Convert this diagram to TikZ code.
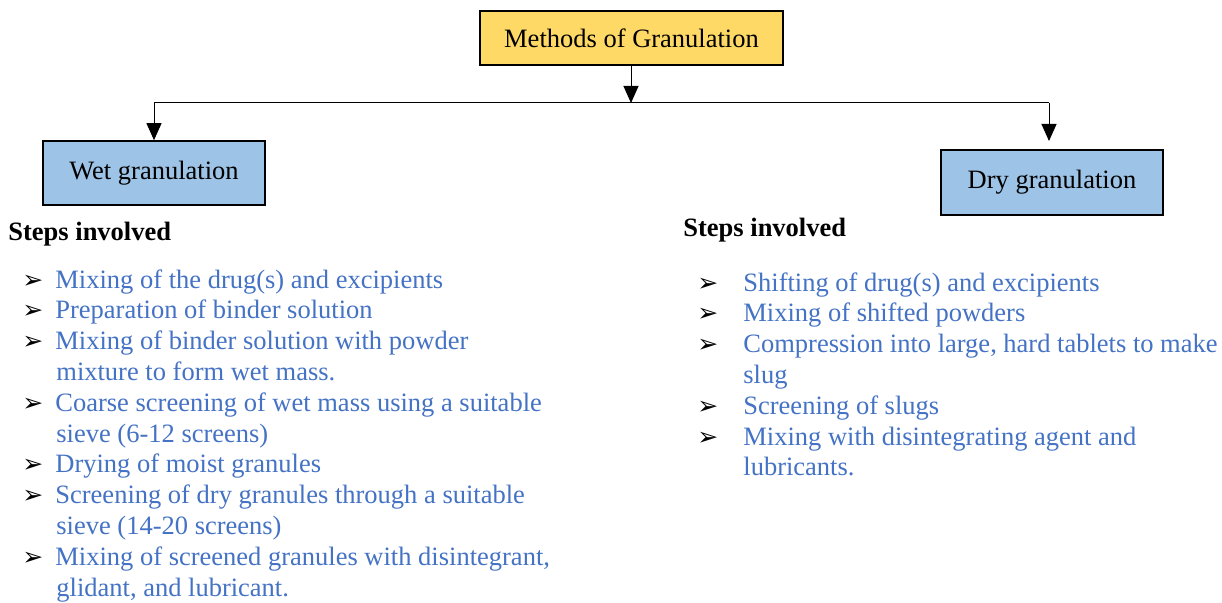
\documentclass[tikz,border=0pt]{standalone}
\usepackage{fontspec}
\setmainfont{Liberation Serif}
\newfontfamily\dejavu{DejaVu Sans}
\usetikzlibrary{positioning,arrows.meta}
\definecolor{boxgold}{HTML}{FFD966}
\definecolor{boxblue}{HTML}{9DC3E6}
\definecolor{stepblue}{HTML}{4472C4}
\newcommand{\stepmark}[1]{\makebox[#1][l]{\color{black}\dejavu\fontsize{12.5}{12}\selectfont ➢}}

\begin{document}
\begin{tikzpicture}[
  x=0.5pt, y=-0.5pt,
  box/.style={draw, line width=0.8pt, align=center,
              font=\fontsize{13.25}{15}\selectfont, inner sep=3pt,
              minimum width=111pt, minimum height=32pt},
  heading/.style={font=\fontsize{13.25}{15}\selectfont\bfseries, inner sep=0pt},
  steplist/.style={align=left, inner sep=0pt, text=stepblue,
                   font=\fontsize{13.25}{15.4}\selectfont},
  arr/.style={-{Triangle[length=8.5pt, width=7.5pt]}, line width=0.5pt}
]
\useasboundingbox (0,0) rectangle (1222,603);

\node[box, fill=boxgold, minimum width=151.5pt, minimum height=27pt] (methods)
  at (631.5,38) {Methods of Granulation};
\node[box, fill=boxblue] (wet) at (154,173) {Wet granulation};
\node[box, fill=boxblue, minimum height=32.5pt] (dry) at (1052,182.5) {Dry granulation};

\coordinate (split) at (631,103);
\coordinate (wetturn) at (wet.north |- split);
\coordinate (dryturn) at (1049,103);
\coordinate (dryin) at (1049,141);

\draw[arr] (methods.south -| split) -- (split);
\draw[line width=0.5pt] (wetturn) -- (dryturn);
\draw[arr] (wetturn) -- (wet.north);
\draw[arr] (dryturn) -- (dryin);

% steps for each method
\node[heading, anchor=west] (wetsteps) at (8,234) {Steps involved};
\node[heading, anchor=west] (drysteps) at (683,230) {Steps involved};

\node[steplist, anchor=north west] (wetlist) at (22,269)
  {\stepmark{16.5pt}Mixing of the drug(s) and excipients\\
   \stepmark{16.5pt}Preparation of binder solution\\
   \stepmark{16.5pt}Mixing of binder solution with powder\\
   \hspace*{17pt}mixture to form wet mass.\\
   \stepmark{16.5pt}Coarse screening of wet mass using a suitable\\
   \hspace*{17pt}sieve (6-12 screens)\\
   \stepmark{16.5pt}Drying of moist granules\\
   \stepmark{16.5pt}Screening of dry granules through a suitable\\
   \hspace*{17pt}sieve (14-20 screens)\\
   \stepmark{16.5pt}Mixing of screened granules with disintegrant,\\
   \hspace*{17pt}glidant, and lubricant.};

\node[steplist, anchor=north west] (drylist) at (697,272)
  {\stepmark{23pt}Shifting of drug(s) and excipients\\
   \stepmark{23pt}Mixing of shifted powders\\
   \stepmark{23pt}Compression into large, hard tablets to make\\
   \hspace*{23pt}slug\\
   \stepmark{23pt}Screening of slugs\\
   \stepmark{23pt}Mixing with disintegrating agent and\\
   \hspace*{23pt}lubricants.};
\end{tikzpicture}
\end{document}
